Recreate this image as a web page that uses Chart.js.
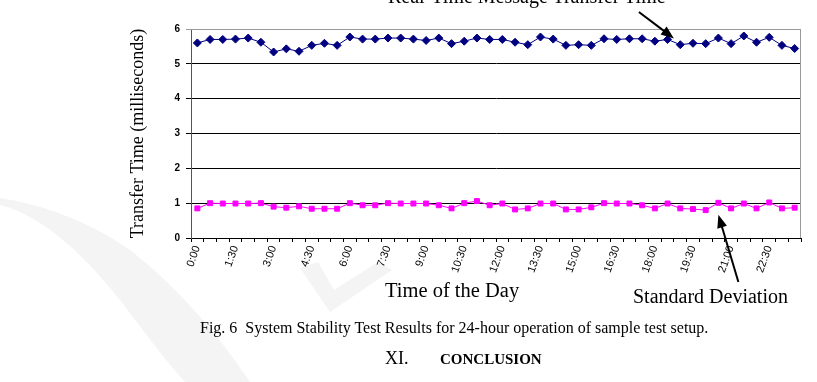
<!DOCTYPE html>
<html>
<head>
<meta charset="utf-8">
<script src="https://cdn.jsdelivr.net/npm/chart.js@4/dist/chart.umd.min.js"></script>
<style>
  html, body { margin: 0; padding: 0; background: #fff; }
  #wrap { position: relative; width: 817px; height: 382px; overflow: hidden; }
  #mark { position: absolute; left: 0; top: 0; }
  canvas { position: absolute; left: 0; top: 0; }
  .t { position: absolute; font-family: "Liberation Serif", "Times New Roman", serif; color: #000; white-space: nowrap; line-height: 1; }
</style>
</head>
<body>
<div id="wrap">
  <svg id="mark" width="817" height="382">
    <path d="M0 205 C40 215 80 250 120 300 C150 340 170 365 185 382 L250 382 C215 330 175 285 130 250 C90 222 45 205 0 198 Z" fill="#f4f4f4"/>
    <path d="M300 268 L330 312 L392 270 L378 262 L334 290 L318 262 Z" fill="#f4f4f4"/>
  </svg>
  <canvas id="myChart" width="817" height="382"></canvas>
  <div class="t" style="left:388px;top:-14px;font-size:20px;">Real-Time Message Transfer Time</div>
  <div class="t" style="left:385px;top:280px;font-size:20.5px;">Time of the Day</div>
  <div class="t" style="left:633px;top:286px;font-size:20px;">Standard Deviation</div>
  <div class="t" style="left:200px;top:320px;font-size:16px;">Fig. 6&nbsp; System Stability Test Results for 24-hour operation of sample test setup.</div>
  <div class="t" style="left:385px;top:349px;font-size:18px;">XI.</div>
  <div class="t" style="left:440px;top:352px;font-size:15px;font-weight:bold;">CONCLUSION</div>
</div>
<script>
(function(){
    'use strict';

    // half-hour slots over the day
    const times = ['0:00','0:30','1:00','1:30','2:00','2:30','3:00','3:30','4:00','4:30','5:00','5:30',
                   '6:00','6:30','7:00','7:30','8:00','8:30','9:00','9:30','10:00','10:30','11:00','11:30',
                   '12:00','12:30','13:00','13:30','14:00','14:30','15:00','15:30','16:00','16:30','17:00','17:30',
                   '18:00','18:30','19:00','19:30','20:00','20:30','21:00','21:30','22:00','22:30','23:00','23:30'];
    const shownTimes = ['0:00','1:30','3:00','4:30','6:00','7:30','9:00','10:30','12:00','13:30','15:00','16:30','18:00','19:30','21:00','22:30'];

    const transferTime = [5.60, 5.70, 5.70, 5.71, 5.74, 5.62, 5.34, 5.43, 5.36, 5.53, 5.59, 5.53,
                          5.77, 5.71, 5.71, 5.74, 5.74, 5.71, 5.67, 5.74, 5.58, 5.65, 5.74, 5.70,
                          5.70, 5.62, 5.55, 5.77, 5.71, 5.53, 5.55, 5.53, 5.72, 5.70, 5.72, 5.72,
                          5.65, 5.70, 5.55, 5.59, 5.58, 5.74, 5.58, 5.80, 5.62, 5.76, 5.53, 5.44];
    const stdDev = [0.85, 1.00, 0.99, 0.99, 0.99, 1.00, 0.90, 0.87, 0.91, 0.84, 0.84, 0.84,
                    1.00, 0.94, 0.94, 1.00, 0.99, 0.99, 0.99, 0.94, 0.85, 1.00, 1.06, 0.94,
                    0.99, 0.82, 0.85, 0.99, 0.99, 0.82, 0.82, 0.88, 1.00, 0.99, 0.99, 0.94,
                    0.85, 0.99, 0.85, 0.83, 0.80, 1.01, 0.85, 0.99, 0.85, 1.02, 0.85, 0.87];
    const yTicks = [0, 1, 2, 3, 4, 5, 6];

    function arrow(c, x1, y1, x2, y2) {
      const a = Math.atan2(y2 - y1, x2 - x1);
      c.beginPath();
      c.moveTo(x1, y1);
      c.lineTo(x2 - 8 * Math.cos(a), y2 - 8 * Math.sin(a));
      c.stroke();
      c.beginPath();
      c.moveTo(x2, y2);
      c.lineTo(x2 - 13 * Math.cos(a) + 5 * Math.sin(a), y2 - 13 * Math.sin(a) - 5 * Math.cos(a));
      c.lineTo(x2 - 13 * Math.cos(a) - 5 * Math.sin(a), y2 - 13 * Math.sin(a) + 5 * Math.cos(a));
      c.closePath();
      c.fill();
    }

    const frame = {
      id: 'frame',
      beforeDatasetsDraw(chart) {
        const a = chart.chartArea, c = chart.ctx;
        c.save();
        c.strokeStyle = '#999';
        c.lineWidth = 1;
        c.beginPath();
        c.moveTo(a.left, a.top + 0.5);
        c.lineTo(a.right - 0.5, a.top + 0.5);
        c.lineTo(a.right - 0.5, a.bottom);
        c.stroke();
        c.restore();
      },
      afterDraw(chart) {
        const x = chart.scales.x, y = chart.scales.y, c = chart.ctx;
        c.save();
        c.strokeStyle = '#000';
        c.fillStyle = '#000';
        c.lineWidth = 2;
        // pointer to the transfer time line
        const tx = (x.getPixelForValue(37) + x.getPixelForValue(38)) / 2;
        arrow(c, tx - 35, 12, tx, y.getPixelForValue(transferTime[37]) - 1);
        // pointer to the standard deviation line
        const sx = x.getPixelForValue(41);
        arrow(c, sx + 20, 282, sx, y.getPixelForValue(stdDev[41]) + 12);
        c.restore();
      }
    };

    const ctx = document.getElementById('myChart');

    new Chart(ctx, {
      type: 'line',
      data: {
        labels: times,
        datasets: [{
          label: 'Real-Time Message Transfer Time',
          data: transferTime,
          borderColor: '#000080',
          backgroundColor: '#000080',
          borderWidth: 1,
          pointStyle: 'rectRot',
          pointRadius: 4,
          tension: 0
        }, {
          label: 'Standard Deviation',
          data: stdDev,
          borderColor: '#ff00ff',
          backgroundColor: '#ff00ff',
          borderWidth: 1,
          pointStyle: 'rect',
          pointRadius: 3.5,
          tension: 0
        }]
      },
      options: {
        responsive: false,
        animation: false,
        layout: { padding: { left: 123, right: 16, top: 29, bottom: 77 } },
        plugins: { legend: { display: false }, tooltip: { enabled: false } },
        scales: {
          x: {
            offset: true,
            afterFit(s) { s.height = 67; },
            grid: { offset: true, drawOnChartArea: false, color: '#000', tickLength: 4, tickWidth: 1 },
            border: { color: '#000', width: 1 },
            ticks: {
              autoSkip: false, minRotation: 70, maxRotation: 70, padding: 2,
              color: '#000', font: { family: 'Liberation Sans', size: 11 },
              callback(v) { const l = times[v]; return shownTimes.includes(l) ? l : ''; }
            },
            title: { display: false }
          },
          y: {
            min: 0, max: 6,
            afterFit(s) { s.width = 68; },
            afterBuildTicks(s) { s.ticks = yTicks.map(v => ({ value: v })); },
            grid: { color: c => c.tick && c.tick.value === 6 ? '#999' : '#000', tickLength: 5, lineWidth: 1 },
            border: { color: '#555', width: 1 },
            ticks: { padding: 6, color: '#000', font: { family: 'Liberation Sans', size: 10, weight: 'bold' } },
            title: { display: true, text: 'Transfer Time (milliseconds)', color: '#000', padding: { top: 4, bottom: 0 },
                     font: { family: 'Liberation Serif', size: 18 } }
          }
        }
      },
      plugins: [frame]
    });

})();
</script>
</body>
</html>
